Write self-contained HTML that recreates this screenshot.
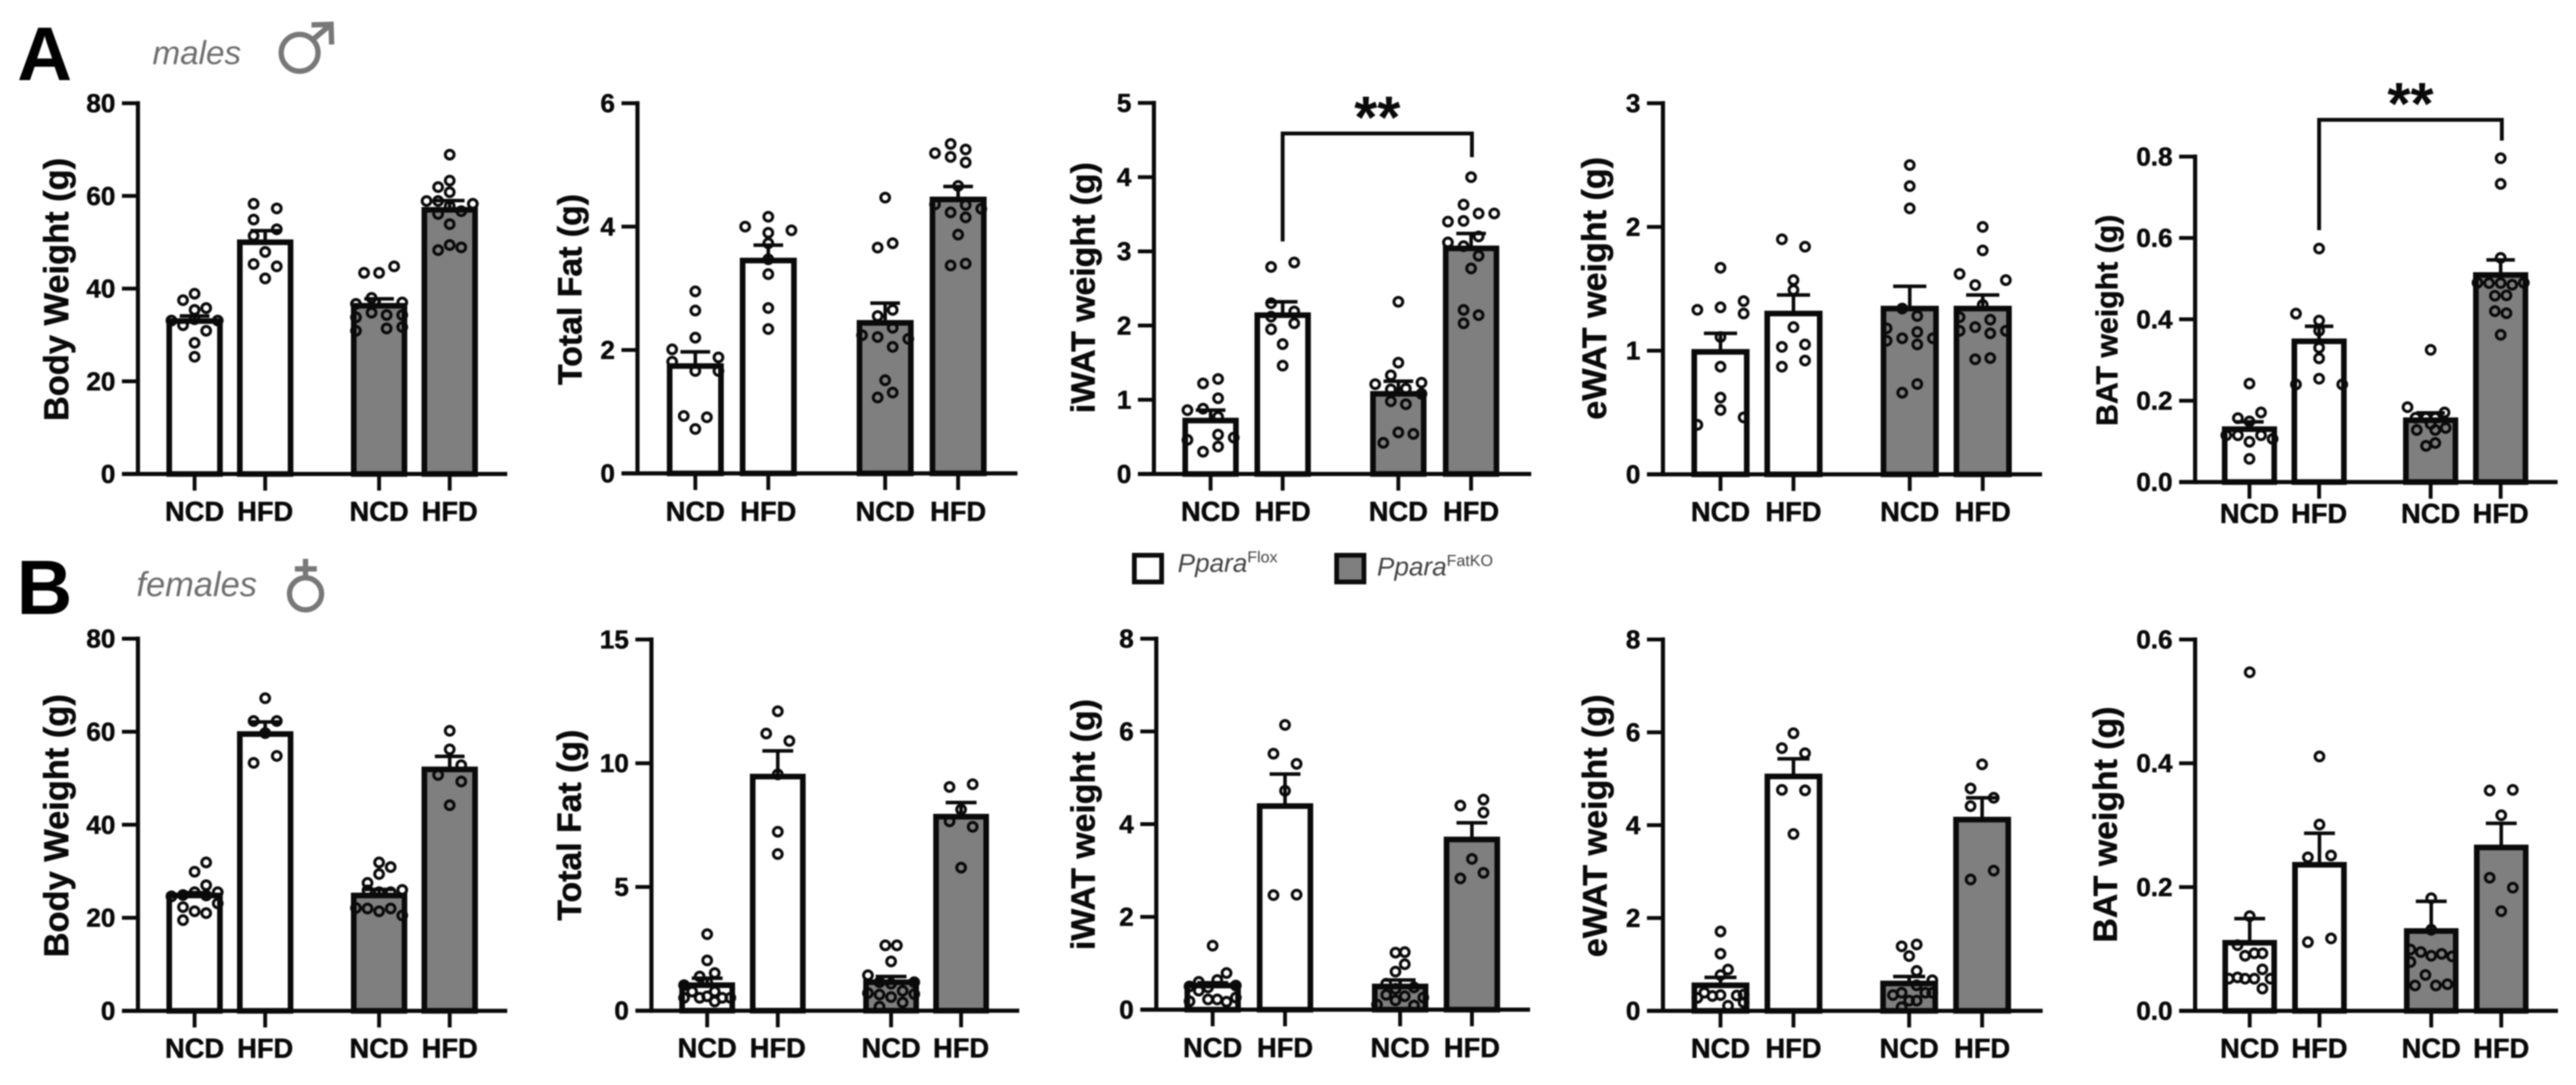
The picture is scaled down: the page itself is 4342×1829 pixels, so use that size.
<!DOCTYPE html>
<html lang="en">
<head>
<meta charset="utf-8">
<title>Body and fat depot weights of male and female mice</title>
<style>
html,body{margin:0;padding:0;background:#fff;}
#figure{display:block;width:4342px;height:1829px;filter:blur(1px);font-family:"Liberation Sans",sans-serif;}
</style>
</head>
<body>
<svg id="figure" xmlns="http://www.w3.org/2000/svg" width="4342" height="1829" viewBox="0 0 4342 1829">
  <rect width="4342" height="1829" fill="#fff"/>
  <text x="29" y="135" font-size="128" font-weight="700" fill="#000">A</text>
  <text x="257" y="108" font-size="56" font-style="italic" fill="#6f6f6f">males</text>
  <g fill="none" stroke="#787878" stroke-width="9">
    <circle cx="505" cy="89" r="31"/>
    <path d="M527 67 L558 41 M525 42 L558 41 L559 75"/>
  </g>
  <text x="28" y="1035" font-size="130" font-weight="700" fill="#000">B</text>
  <text x="230" y="1005" font-size="58" font-style="italic" fill="#6f6f6f">females</text>
  <g fill="none" stroke="#787878" stroke-width="9">
    <circle cx="515" cy="1001" r="27"/>
    <path d="M515 974 V942 M497 959 H534"/>
  </g>
  <g>
    <rect x="1912" y="936" width="46" height="45" fill="#fff" stroke="#0c0c0c" stroke-width="8"/>
    <text x="1985" y="964" font-size="44" font-style="italic" fill="#444">Ppara<tspan font-size="27" font-style="normal" dy="-16">Flox</tspan></text>
    <rect x="2253" y="936" width="46" height="45" fill="#7f7f7f" stroke="#0c0c0c" stroke-width="8"/>
    <text x="2321" y="970" font-size="44" font-style="italic" fill="#444">Ppara<tspan font-size="27" font-style="normal" dy="-16">FatKO</tspan></text>
  </g>
  <g id="charts"></g>
</svg>
<script>
// Groups shared by all panels
const categories = ['NCD', 'HFD', 'NCD', 'HFD'];
const groupFills = ['#ffffff', '#ffffff', '#7f7f7f', '#7f7f7f'];

// A: Body Weight
const maleBodyTicks = ['0', '20', '40', '60', '80'];
const maleBodyMeans = [33, 50, 36.3, 57];
const maleBodySem = [34.1, 52.5, 37.8, 59];
const maleBodyValues = [
  [38.9,37.5,35.8,35.4,33.1,33.1,33.4,32.1,30.9,28.3,25.3],
  [58.3,57.3,54.9,52.8,51.4,47.9,45.3,44.8,42.2],
  [44.8,43.4,43.4,38,36.7,37,34.8,34.3,33.8,34.3,31.4,30.9,31.7],
  [68.9,63.3,61.9,60.8,58.9,58.9,58.3,57.8,56.1,56.7,53.9,48.3,49.4,48.9]
];
const maleBodySwarm = [
  [0,-1,1,0,-2,2,0,-1,1,0,0],
  [-1,1,-1,1,-1,0,-1,1,0],
  [1.3,-1.3,0,-.65,-2,2,-.65,.65,-2,2,.65,-2,2],
  [0,0,-1,0,-2,-1,2,0,-1,1,0,-1,0,1]
];

// A: Total Fat
const maleFatTicks = ['0', '2', '4', '6'];
const maleFatMeans = [1.74, 3.45, 2.44, 4.44];
const maleFatSem = [1.97, 3.7, 2.76, 4.65];
const maleFatValues = [
  [2.95,2.64,2.2,2.01,1.88,1.81,1.66,1.66,.93,.91,.72],
  [4.16,4,3.94,3.9,3.73,3.47,3.23,2.68,2.34],
  [4.47,3.73,3.66,2.65,2.55,2.36,2.24,2.21,2.18,2.05,1.51,1.31,1.23],
  [5.34,5.25,5.19,5.13,5.04,4.66,4.36,4.35,4.29,4.23,4.15,3.87,3.37,3.4]
];
const maleFatSwarm = [
  [0,0,0,-2,2,-2,0,2,-1,1,0],
  [0,-2,2,0,0,0,0,0,0],
  [0,.65,-.65,.65,-.65,.65,-2,-.65,2,.65,0,.65,-.65],
  [-.65,.65,-2,-.65,.65,0,-2,.65,2,-.65,.65,0,-.65,.65]
];

// A: iWAT
const maleIwatTicks = ['0', '1', '2', '3', '4', '5'];
const maleIwatMeans = [.72, 2.14, 1.08, 3.04];
const maleIwatSem = [.86, 2.32, 1.25, 3.24];
const maleIwatValues = [
  [1.28,1.22,1.02,.86,.88,.77,.53,.46,.49,.37,.3],
  [2.85,2.79,2.3,2.19,2.12,2.03,1.95,1.75,1.46],
  [2.32,1.5,1.33,1.21,1.23,1.14,1.15,1.08,.98,.94,.56,.54,.42],
  [4,3.63,3.51,3.51,3.4,3.41,3.2,3.12,3.07,2.94,2.77,2.21,2.14,2.03]
];
const maleIwatSwarm = [
  [.65,-.65,.65,-2,-.65,.65,.65,-2,2,.65,-.65],
  [1,-1,-1,1,-1,1,-1,0,0],
  [0,0,-.65,-2,2,-.65,.65,2,-.65,.65,0,1.3,-1.3],
  [0,-.65,.65,2,-2,-.65,.65,-2,-.65,.65,0,-.65,.65,-.65]
];

// A: eWAT
const maleEwatTicks = ['0', '1', '2', '3'];
const maleEwatMeans = [.99, 1.3, 1.34, 1.34];
const maleEwatSem = [1.14, 1.45, 1.52, 1.45];
const maleEwatValues = [
  [1.67,1.4,1.33,1.35,1.3,1.11,.87,.62,.52,.46,.4],
  [1.9,1.84,1.57,1.49,1.19,1.03,1.05,.92,.87],
  [2.5,2.33,2.15,1.34,1.28,1.18,1.15,1.1,1.1,1.08,1.05,.73,.66],
  [2,1.81,1.62,1.57,1.53,1.37,1.27,1.25,1.19,1.16,1.14,1.16,.94,.93]
];
const maleEwatSwarm = [
  [0,2,-2,0,2,0,0,0,0,2,-2],
  [-1,1,0,0,0,-1,1,1,-1],
  [0,0,0,-.65,.65,-2,.65,-.65,2,-2,.65,.65,-.65],
  [0,0,-2,2,-.65,0,-2,.65,-.65,-2,.65,2,.65,-.65]
];

// A: BAT
const maleBatTicks = ['0.0', '0.2', '0.4', '0.6', '0.8'];
const maleBatMeans = [.13, .346, .152, .509];
const maleBatSem = [.148, .383, .17, .546];
const maleBatValues = [
  [.242,.171,.157,.149,.115,.115,.115,.106,.099,.057],
  [.574,.414,.397,.372,.33,.304,.254,.24,.24],
  [.325,.184,.171,.158,.158,.158,.143,.128,.128,.133,.096,.089],
  [.796,.733,.551,.49,.489,.489,.485,.49,.458,.459,.42,.415,.362]
];
const maleBatSwarm = [
  [0,1,-1,0,-2,-1,1,2,0,0],
  [0,-2,0,0,0,0,0,-2,2],
  [0,-2,1.2,-1.3,-.4,.4,0,-1.2,.4,1.3,.4,-.4],
  [0,0,0,-2,-1,0,1,2,-.5,.5,-.5,.5,0]
];

// B: Body Weight
const femaleBodyTicks = ['0', '20', '40', '60', '80'];
const femaleBodyMeans = [24.8, 59.5, 24.8, 51.9];
const femaleBodySem = [25.4, 62.1, 26.1, 54.7];
const femaleBodyValues = [
  [31.9,29.9,27,25.5,24.6,24.9,25.5,24.8,23.1,22.3,21.4,21,19.5],
  [67.2,62.3,62.3,59.7,54.8,53.3],
  [31.9,30.9,29.4,27.5,26,25.9,25.5,25.5,22.1,22,21.4,22,20.5],
  [60.2,56.2,52.8,50.7,49.3,44.2]
];
const femaleBodySwarm = [
  [1,0,1,2,-2,-1,0,1,2,-1,0,1,-1],
  [0,-1,1,0,1,-1],
  [0,1,0,-1,2,-1,0,1,-2,-1,0,1,2],
  [0,0,1,-1,1,0]
];

// B: Total Fat
const femaleFatTicks = ['0', '5', '10', '15'];
const femaleFatMeans = [1.03, 9.46, 1.15, 7.84];
const femaleFatSem = [1.31, 10.5, 1.38, 8.41];
const femaleFatValues = [
  [3.09,2.03,1.38,1.52,1.15,1.03,.58,.52,.37,.52,.52,.52,.77,.77],
  [12.1,11.2,10.9,9.55,7.23,6.33],
  [2.64,2.64,1.99,1.43,1.15,1.09,1.15,.8,.71,.65,.67,.55,.33,.16],
  [9.04,9.15,8.13,7.65,7.43,5.78]
];
const femaleFatSwarm = [
  [0,0,-.65,.65,0,-2,0,-.65,.65,-2,2,1.3,-1.3,.65],
  [0,-1,1,0,0,0],
  [-.5,.5,0,-2,-1,0,2,1,-2,-1,2,0,1,-1],
  [-1,1,0,-1,1,0]
];

// B: iWAT
const femaleIwatTicks = ['0', '2', '4', '6', '8'];
const femaleIwatMeans = [.52, 4.39, .5, 3.67];
const femaleIwatSem = [.58, 5.08, .64, 4.03];
const femaleIwatValues = [
  [1.38,.79,.6,.64,.52,.5,.48,.41,.18,.22,.22,.17,.26],
  [6.14,5.52,5.3,4.72,2.47,2.48],
  [1.23,1.24,.98,.82,.56,.48,.45,.32,.29,.2,.26,.09,.11],
  [4.4,4.53,4.25,3.25,2.95,2.83]
];
const femaleIwatSwarm = [
  [0,1.2,-1.2,.4,2,-2,-.4,-1.2,-2,-.4,.4,1.2,2],
  [0,-1,1,0,-1,1],
  [-.4,.4,.4,-.4,-1.2,1.2,-.4,-1.2,.4,-.4,2,1.2,-2],
  [-1,1,1,0,1,-1]
];

// B: eWAT
const femaleEwatTicks = ['0', '2', '4', '6', '8'];
const femaleEwatMeans = [.55, 5.05, .59, 4.12];
const femaleEwatSem = [.72, 5.43, .74, 4.59];
const femaleEwatValues = [
  [1.71,1.23,.89,.77,.39,.32,.34,.33,.28,.18,.11,.35],
  [5.98,5.66,5.55,4.76,4.75,3.81],
  [1.39,1.43,1.18,.86,.66,.55,.34,.39,.39,.39,.22,.22,.08],
  [5.31,4.79,4.59,4.41,3.02,2.83]
];
const femaleEwatSwarm = [
  [0,0,.65,0,-1.4,-.7,0,1.4,-2,2,.65,2],
  [0,-1,1,-1,1,0],
  [-.65,.65,0,.65,2,.65,-1.4,-.65,1.4,2,0,.65,-.65],
  [0,-1,1,-1,1,-1]
];

// B: BAT
const femaleBatTicks = ['0.0', '0.2', '0.4', '0.6'];
const femaleBatMeans = [.11, .236, .129, .264];
const femaleBatSem = [.149, .287, .177, .303];
const femaleBatValues = [
  [.547,.153,.106,.089,.093,.093,.067,.052,.054,.052,.052,.052,.036],
  [.411,.301,.248,.251,.111,.117],
  [.182,.131,.099,.095,.089,.092,.088,.079,.058,.041,.041,.043],
  [.356,.357,.316,.215,.199,.161]
];
const femaleBatSwarm = [
  [0,0,-1.05,-.4,.4,1.1,1.1,-1.8,-1.05,-.4,.4,1.8,1.1],
  [0,0,-1,1,-1,1],
  [0,0,-1.8,-.9,0,.9,1.8,-1.8,-.5,-1.4,.4,1.4],
  [-1,1,0,-1,1,0]
];

const NS = 'http://www.w3.org/2000/svg';
const INK = '#0a0a0a';
const root = document.getElementById('charts');

function el(tag, attrs, parent) {
  const node = document.createElementNS(NS, tag);
  Object.keys(attrs).forEach(function (k) { node.setAttribute(k, attrs[k]); });
  parent.appendChild(node);
  return node;
}

function drawPanel(p) {
  const maxValue = parseFloat(p.ticks[p.ticks.length - 1]);
  const yScale = function (v) { return p.y0 + (p.yTop - p.y0) * v / maxValue; };

  const g = el('g', {}, root);
  
  

  p.centers.forEach(function (cx, i) {
    const yv = yScale(p.means[i]);
    const barW = p.barW - 9.5;
    const left = cx - barW / 2;

    const fill = el('rect', { x: left, y: yv, width: barW, height: p.y0 - yv, fill: groupFills[i] }, g);
    
    

    p.values[i].forEach(function (v, j) {
      const dot = el('circle', {
        cx: cx + p.swarm[i][j] * 19.5, cy: yScale(v), r: 7.4,
        fill: 'none', stroke: INK, 'stroke-width': 5
      }, g);
      
      
    });

    const bar = el('rect', { x: left, y: yv, width: barW, height: p.y0 - yv, fill: 'none', stroke: INK, 'stroke-width': 9.5 }, g);
    
    

    const ye = yScale(p.sem[i]);
    const err = el('path', {
      d: 'M' + cx + ' ' + yv + ' V' + ye + ' M' + (cx - p.capW / 2) + ' ' + ye + ' H' + (cx + p.capW / 2),
      fill: 'none', stroke: INK, 'stroke-width': 6
    }, g);
    
    

    const tick = el('line', { x1: cx, x2: cx, y1: p.y0, y2: p.y0 + 28, stroke: INK, 'stroke-width': 6.5 }, g);
    
    

    const label = el('text', {
      x: cx, y: p.y0 + p.labelGap, 'text-anchor': 'middle',
      'font-size': 46, 'font-weight': 700, fill: INK, stroke: INK, 'stroke-width': 0.8
    }, g);
    label.textContent = categories[i];
    
    
  });

  const yAxis = el('line', { x1: p.axisX, x2: p.axisX, y1: p.yTop - 3.5, y2: p.y0 + 3.5, stroke: INK, 'stroke-width': 7 }, g);
  
  

  const xAxis = el('line', { x1: p.axisX - 27, x2: p.xEnd, y1: p.y0, y2: p.y0, stroke: INK, 'stroke-width': 7 }, g);
  
  

  p.ticks.forEach(function (t) {
    const y = yScale(parseFloat(t));
    const tick = el('line', { x1: p.axisX - 27, x2: p.axisX, y1: y, y2: y, stroke: INK, 'stroke-width': 6.5 }, g);
    
    

    const label = el('text', {
      x: p.axisX - 38, y: y + 15, 'text-anchor': 'end',
      'font-size': 44, 'font-weight': 700, fill: INK, stroke: INK, 'stroke-width': 0.8
    }, g);
    label.textContent = t;
    
    
  });

  const title = el('text', {
    transform: 'translate(' + p.titleX + ' ' + p.titleY + ') rotate(-90)',
    'text-anchor': 'middle', 'font-size': p.titleSize, 'font-weight': 700, fill: INK, stroke: INK, 'stroke-width': 0.8
  }, g);
  title.textContent = p.title;
  
  

  if (p.sig) {
    const s = p.sig;
    const bracket = el('path', {
      d: 'M' + s.x1 + ' ' + s.b1 + ' V' + s.top + ' H' + s.x2 + ' V' + s.b2,
      fill: 'none', stroke: INK, 'stroke-width': 6.5
    }, g);
    
    

    const stars = el('text', {
      x: (s.x1 + s.x2) / 2, y: s.top + 7, 'text-anchor': 'middle',
      'font-size': 100, 'font-weight': 700, fill: INK
    }, g);
    stars.textContent = '**';
    
    
  }
}

drawPanel({ name: 'male-body-weight', title: 'Body Weight (g)', ticks: maleBodyTicks, means: maleBodyMeans, sem: maleBodySem, values: maleBodyValues, swarm: maleBodySwarm,
  axisX: 232.5, yTop: 174, y0: 799, xEnd: 855, centers: [328, 447, 639, 758], barW: 95, capW: 50, labelGap: 79, titleX: 115, titleY: 488, titleSize: 58 });
drawPanel({ name: 'male-total-fat', title: 'Total Fat (g)', ticks: maleFatTicks, means: maleFatMeans, sem: maleFatSem, values: maleFatValues, swarm: maleFatSwarm,
  axisX: 1074.5, yTop: 174, y0: 798, xEnd: 1715, centers: [1172, 1295, 1492, 1615], barW: 96, capW: 50, labelGap: 80, titleX: 980, titleY: 488, titleSize: 57 });
drawPanel({ name: 'male-iwat', title: 'iWAT weight (g)', ticks: maleIwatTicks, means: maleIwatMeans, sem: maleIwatSem, values: maleIwatValues, swarm: maleIwatSwarm,
  axisX: 1945, yTop: 173.5, y0: 799, xEnd: 2581, centers: [2040.5, 2162, 2357, 2479.6], barW: 95, capW: 50, labelGap: 79, titleX: 1845, titleY: 485, titleSize: 57,
  sig: { x1: 2162, x2: 2481, top: 225, b1: 407, b2: 265 } });
drawPanel({ name: 'male-ewat', title: 'eWAT weight (g)', ticks: maleEwatTicks, means: maleEwatMeans, sem: maleEwatSem, values: maleEwatValues, swarm: maleEwatSwarm,
  axisX: 2803, yTop: 174, y0: 799.6, xEnd: 3442, centers: [2900, 3023, 3219, 3342], barW: 98, capW: 56, labelGap: 79, titleX: 2707, titleY: 486, titleSize: 57.5 });
drawPanel({ name: 'male-bat', title: 'BAT weight (g)', ticks: maleBatTicks, means: maleBatMeans, sem: maleBatSem, values: maleBatValues, swarm: maleBatSwarm,
  axisX: 3700, yTop: 264, y0: 812.6, xEnd: 4311, centers: [3791.6, 3909, 4097, 4215], barW: 93, capW: 48, labelGap: 69, titleX: 3569, titleY: 540, titleSize: 51,
  sig: { x1: 3909, x2: 4217, top: 202, b1: 388, b2: 237 } });

drawPanel({ name: 'female-body-weight', title: 'Body Weight (g)', ticks: femaleBodyTicks, means: femaleBodyMeans, sem: femaleBodySem, values: femaleBodyValues, swarm: femaleBodySwarm,
  axisX: 232.5, yTop: 1076.6, y0: 1704, xEnd: 855, centers: [328, 447, 639, 758], barW: 95, capW: 50, labelGap: 79, titleX: 115, titleY: 1392, titleSize: 58 });
drawPanel({ name: 'female-total-fat', title: 'Total Fat (g)', ticks: femaleFatTicks, means: femaleFatMeans, sem: femaleFatSem, values: femaleFatValues, swarm: femaleFatSwarm,
  axisX: 1098, yTop: 1078, y0: 1703.7, xEnd: 1718, centers: [1192, 1311, 1502, 1620], barW: 94, capW: 52, labelGap: 79, titleX: 979, titleY: 1391, titleSize: 57 });
drawPanel({ name: 'female-iwat', title: 'iWAT weight (g)', ticks: femaleIwatTicks, means: femaleIwatMeans, sem: femaleIwatSem, values: femaleIwatValues, swarm: femaleIwatSwarm,
  axisX: 1949, yTop: 1076.6, y0: 1702, xEnd: 2579, centers: [2044, 2166, 2360, 2481], barW: 95, capW: 52, labelGap: 80, titleX: 1845, titleY: 1390, titleSize: 57 });
drawPanel({ name: 'female-ewat', title: 'eWAT weight (g)', ticks: femaleEwatTicks, means: femaleEwatMeans, sem: femaleEwatSem, values: femaleEwatValues, swarm: femaleEwatSwarm,
  axisX: 2803, yTop: 1078, y0: 1704, xEnd: 3443, centers: [2900, 3023, 3218, 3341], barW: 97.5, capW: 54, labelGap: 79, titleX: 2708, titleY: 1392, titleSize: 57.5 });
drawPanel({ name: 'female-bat', title: 'BAT weight (g)', ticks: femaleBatTicks, means: femaleBatMeans, sem: femaleBatSem, values: femaleBatValues, swarm: femaleBatSwarm,
  axisX: 3700, yTop: 1078, y0: 1704, xEnd: 4311.6, centers: [3792, 3909.6, 4098, 4216], barW: 92, capW: 52, labelGap: 79, titleX: 3568, titleY: 1390, titleSize: 57 });
</script>
</body>
</html>
